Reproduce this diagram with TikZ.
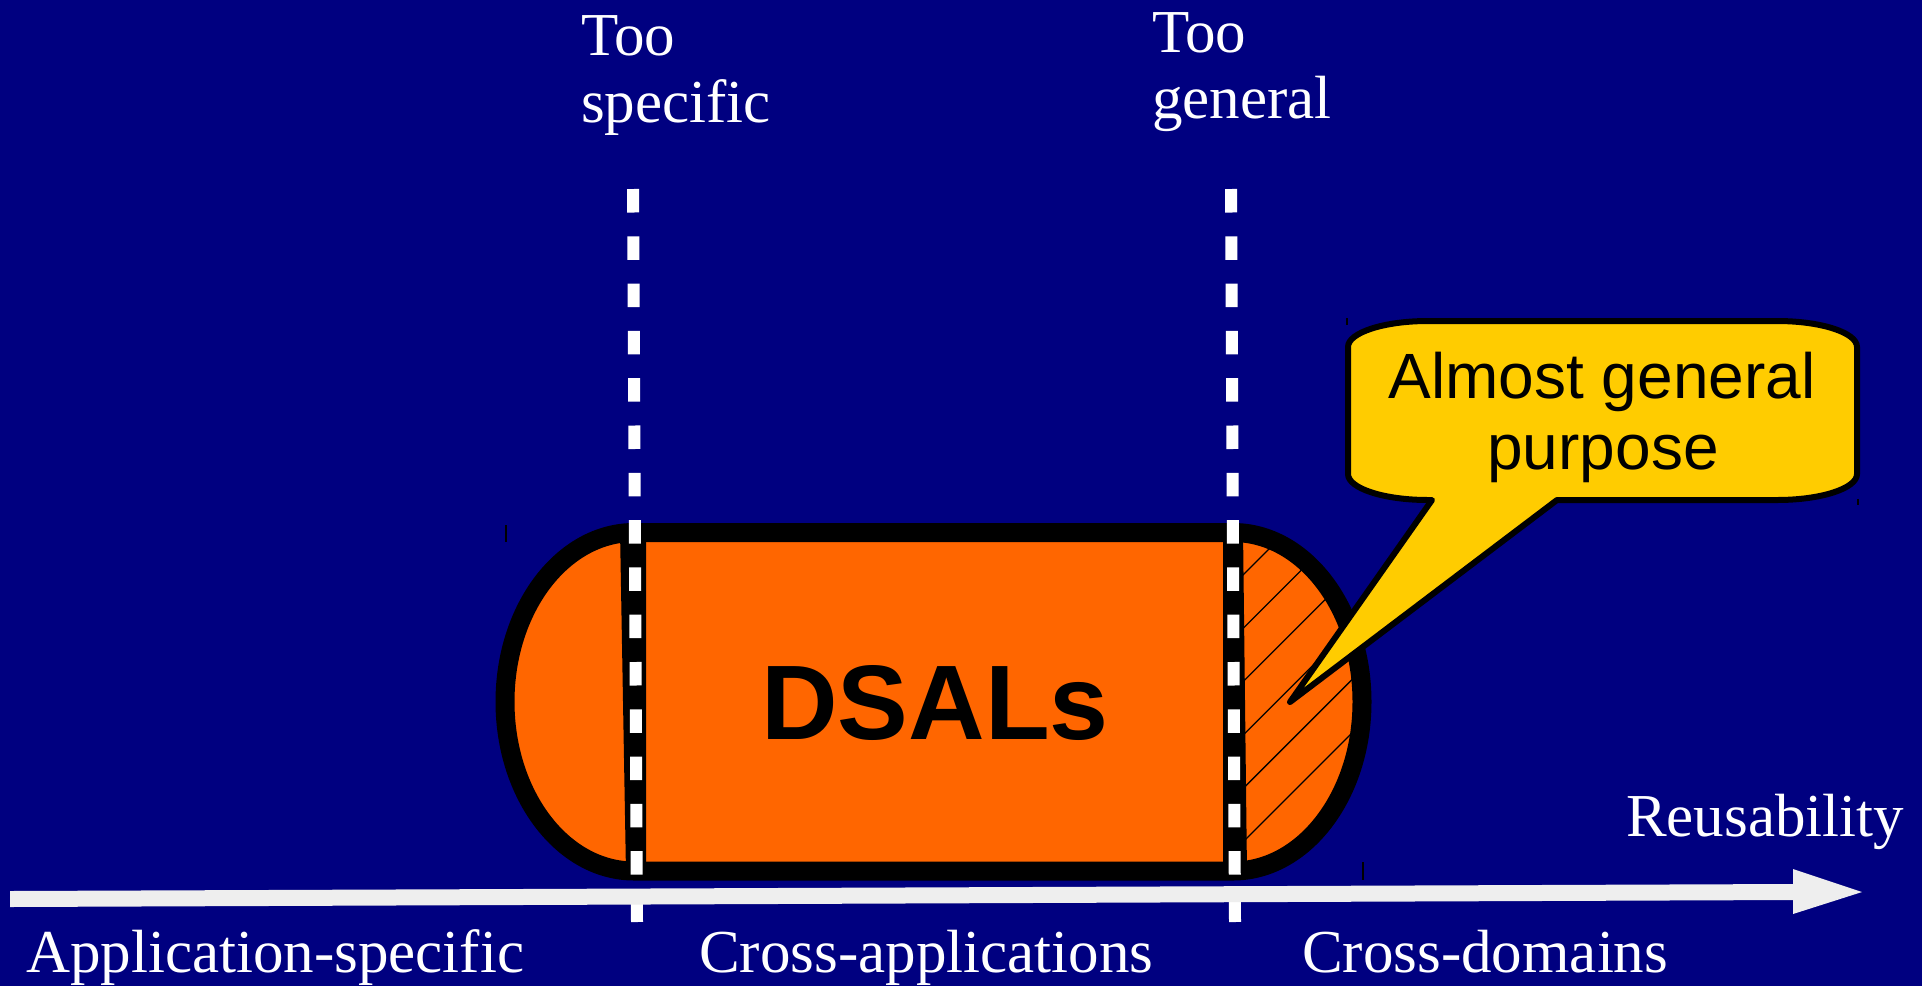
\documentclass[tikz,border=0pt]{standalone}
\usepackage{fontspec}
\setmainfont{Liberation Serif}
\newfontfamily\arialf{Liberation Sans}
\definecolor{navy}{HTML}{000080}
\definecolor{orng}{HTML}{FF6600}
\definecolor{yell}{HTML}{FFCC00}
\definecolor{agray}{HTML}{EEEEEE}
\begin{document}
\begin{tikzpicture}[x=1pt,y=-1pt,
  serif/.style={text=white,font=\fontsize{61}{67}\selectfont,inner sep=0pt,anchor=base west},
  calltext/.style={text=black,font=\arialf\fontsize{64}{71}\selectfont,inner sep=0pt,anchor=base},
  dsal/.style={text=black,font=\arialf\bfseries\fontsize{106}{120}\selectfont,inner sep=0pt,anchor=base},
  wdash/.style={white,line width=12pt,dash pattern=on 23.5pt off 23.8pt},
  tick/.style={black,line width=1.2pt},
  hatchline/.style={black,line width=1.3pt}]
\useasboundingbox (0,0) rectangle (1922,986);
\fill[navy] (0,0) rectangle (1922,986);

% capsule fill
\path[fill=orng] (634,532.5) -- (1233,532.5)
  arc[start angle=90,end angle=-90,x radius=129pt,y radius=169.25pt]
  -- (634,871)
  arc[start angle=270,end angle=90,x radius=129pt,y radius=169.25pt] -- cycle;

% hatching of right end
\begin{scope}
  \clip (1233,500) rectangle (1400,900);
  \clip (1233,701.75) ellipse [x radius=129pt,y radius=169.25pt];
  \foreach \k in {0,...,5}{
    \pgfmathsetmacro{\c}{1818+53.4*\k}
    \draw[hatchline] (1233,\c-1233) -- (1420,\c-1420);
  }
\end{scope}

% capsule outline
\draw[black,line width=19pt,line join=round] (634,532.5) -- (1233,532.5)
  arc[start angle=90,end angle=-90,x radius=129pt,y radius=169.25pt]
  -- (634,871)
  arc[start angle=270,end angle=90,x radius=129pt,y radius=169.25pt] -- cycle;
\fill[black] (620,530) -- (646,530) -- (646,873) -- (626,873) -- cycle;
\fill[black] (1223,530) -- (1243,530) -- (1247,873) -- (1223,873) -- cycle;

% tiny marks
\draw[tick] (506,525) -- (506,542);
\draw[tick] (1363,862) -- (1363,880);
\draw[tick] (1347,318) -- (1347,325);
\draw[tick] (1858,499) -- (1858,505);

% dashed boundaries
\coordinate (ltop) at (633,189);
\coordinate (lbot) at (637,922);
\coordinate (rtop) at (1231,189);
\coordinate (rbot) at (1235,922);
\draw[wdash] (ltop) -- (lbot);
\draw[wdash] (rtop) -- (rbot);

% axis arrow
\fill[agray] (10,891) -- (1793,884) -- (1793,869) -- (1862,892) -- (1793,914) -- (1793,900) -- (10,907) -- cycle;

% callout
\draw[black,fill=yell,line width=6pt,line join=round] (1428,321) -- (1777,321)
  arc[start angle=90,end angle=0,x radius=80pt,y radius=26pt]
  -- (1857,474)
  arc[start angle=0,end angle=-90,x radius=80pt,y radius=26pt]
  -- (1557,500) -- (1290,702) -- (1432,500) -- (1428,500)
  arc[start angle=270,end angle=180,x radius=80pt,y radius=26pt]
  -- (1348,347)
  arc[start angle=180,end angle=90,x radius=80pt,y radius=26pt] -- cycle;
\node[calltext] (cl1) at (1602,398) {Almost general};
\node[calltext] (cl2) at (1603,469) {purpose};

% DSALs
\node[dsal] (dsals) at (935,739) {DSALs};

% labels
\node[serif] (ts1) at (581,55) {Too};
\node[serif] (ts2) at (581,122) {specific};
\node[serif] (tg1) at (1152,52) {Too};
\node[serif] (tg2) at (1152,118) {general};
\node[serif] (reus) at (1626,836) {Reusability};
\node[serif] (app) at (26,972) {Application-specific};
\node[serif] (capp) at (699,972) {Cross-applications};
\node[serif] (cdom) at (1302,972) {Cross-domains};
\end{tikzpicture}
\end{document}
